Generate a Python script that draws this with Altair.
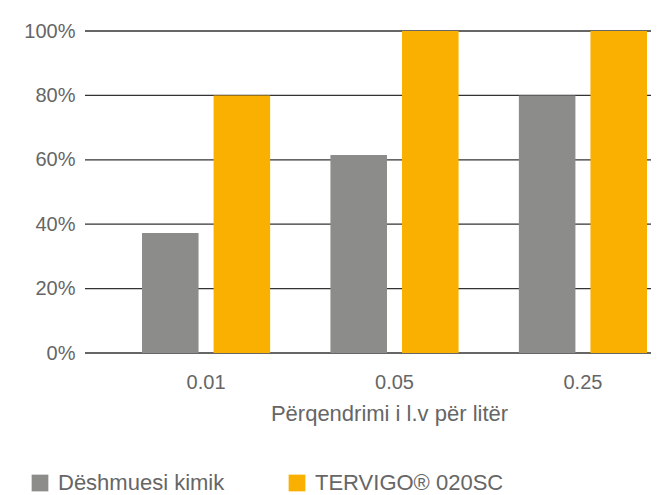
import altair as alt
import pandas as pd

categories = ["0.01", "0.05", "0.25"]
series_names = ["Dëshmuesi kimik", "TERVIGO® 020SC"]
kimik = [37.3, 61.5, 80.0]
tervigo = [80.0, 100.0, 100.0]
colors = ["#8c8c8a", "#f9b000"]
y_ticks = [0, 20, 40, 60, 80, 100]

rows = []
for c, a, b in zip(categories, kimik, tervigo):
    rows.append({"cat": c, "series": series_names[0], "value": a})
    rows.append({"cat": c, "series": series_names[1], "value": b})
df = pd.DataFrame(rows)
grid_df = pd.DataFrame({"value": y_ticks})

FONT = "Liberation Sans"
TXT = "#666666"
W, H = 566, 322

y_scale = alt.Scale(domain=[0, 100], nice=False)

grid = alt.Chart(grid_df).mark_rule(color="#333333", strokeWidth=1.3).encode(
    y=alt.Y("value:Q", scale=y_scale,
            axis=alt.Axis(title=None, values=y_ticks, labelExpr="datum.value + '%'",
                          domain=False, ticks=False, tickSize=0, labelPadding=10,
                          labelFontSize=20, labelColor=TXT, labelFont=FONT,
                          grid=False)),
    x=alt.value(0),
    x2=alt.value(W),
)

bars = alt.Chart(df).mark_bar().encode(
    x=alt.X("cat:N", sort=categories,
            scale=alt.Scale(range=[57, 562], paddingInner=0.32, paddingOuter=0),
            axis=alt.Axis(title="Përqendrimi i l.v për litër", labelAngle=0,
                          ticks=False, tickSize=0, labelPadding=35,
                          labelBaseline="alphabetic", domain=False,
                          labelFontSize=20, labelColor=TXT, labelFont=FONT,
                          titleFontSize=22, titleColor=TXT, titleFont=FONT,
                          titleFontWeight="normal", titleX=304, titleY=67,
                          titleBaseline="alphabetic", grid=False)),
    xOffset=alt.XOffset("series:N", sort=series_names,
                        scale=alt.Scale(paddingInner=0.21, paddingOuter=0)),
    y=alt.Y("value:Q", scale=y_scale),
    color=alt.Color("series:N", sort=series_names,
                    scale=alt.Scale(domain=series_names, range=colors),
                    legend=alt.Legend(title=None, orient="none", legendX=-56, legendY=441,
                                      direction="horizontal", symbolType="square",
                                      symbolSize=280, symbolStrokeWidth=0,
                                      symbolOpacity=1,
                                      labelFontSize=22, labelColor=TXT, labelFont=FONT,
                                      labelOffset=7, columnPadding=61, padding=0,
                                      labelLimit=400)),
)

chart = alt.layer(grid, bars).properties(
    width=W, height=H,
    autosize=alt.AutoSizeParams(type="none"),
    padding={"left": 77, "top": 23, "right": 0, "bottom": 150},
).configure_view(stroke=None)

chart.save("out.html", embed_options={"renderer": "svg", "actions": False})
